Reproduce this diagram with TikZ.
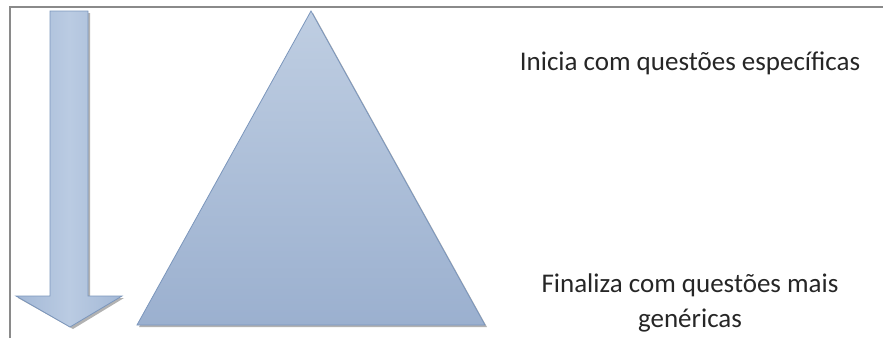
\documentclass[tikz,border=0pt]{standalone}
\usepackage{fontspec}
\setmainfont{Carlito}
\usetikzlibrary{positioning}
\definecolor{ShapeTop}{HTML}{BFCEE2}
\definecolor{ShapeBottom}{HTML}{9BB0CF}
\definecolor{ShapeEdge}{HTML}{7B96BC}
\definecolor{ArrowSide}{HTML}{A3B8D6}
\definecolor{ArrowMid}{HTML}{BACBE2}
\definecolor{FrameGray}{HTML}{8A8A8A}
\definecolor{TextGray}{HTML}{262626}

\begin{document}
\begin{tikzpicture}[
  x=1pt, y=-1pt,
  frameline/.style={draw=FrameGray, line width=1.3pt},
  shapeedge/.style={draw=ShapeEdge, line width=0.8pt, line join=miter},
  softshadow/.style={fill=black, opacity=0.3},
  caption/.style={font=\fontsize{27}{35}\selectfont, text=TextGray, align=center, inner sep=0pt},
]
\useasboundingbox (0,0) rectangle (883,338);

% frame
\draw[frameline] (10,338) -- (10,7) -- (883,7);

% arrow
\fill[softshadow] (52,13) -- (90,13) -- (90,298) -- (124,298) -- (73,329) -- (18,298) -- (52,298) -- cycle;
\shade[shapeedge, left color=ArrowSide, right color=ArrowSide, middle color=ArrowMid]
  (50,11) -- (88,11) -- (88,296) -- (122,296) -- (70,327) -- (16,296) -- (50,296) -- cycle;

% triangle
\fill[softshadow] (313,13) -- (487,327) -- (139,327) -- cycle;
\shade[shapeedge, top color=ShapeTop, bottom color=ShapeBottom]
  (311,11) -- (485,325) -- (137,325) -- cycle;

% texts
\node[caption] (specific) at (690,63) {Inicia com questões específicas};
\node[caption] (generic) at (690,303) {Finaliza com questões mais\\genéricas};
\end{tikzpicture}
\end{document}
